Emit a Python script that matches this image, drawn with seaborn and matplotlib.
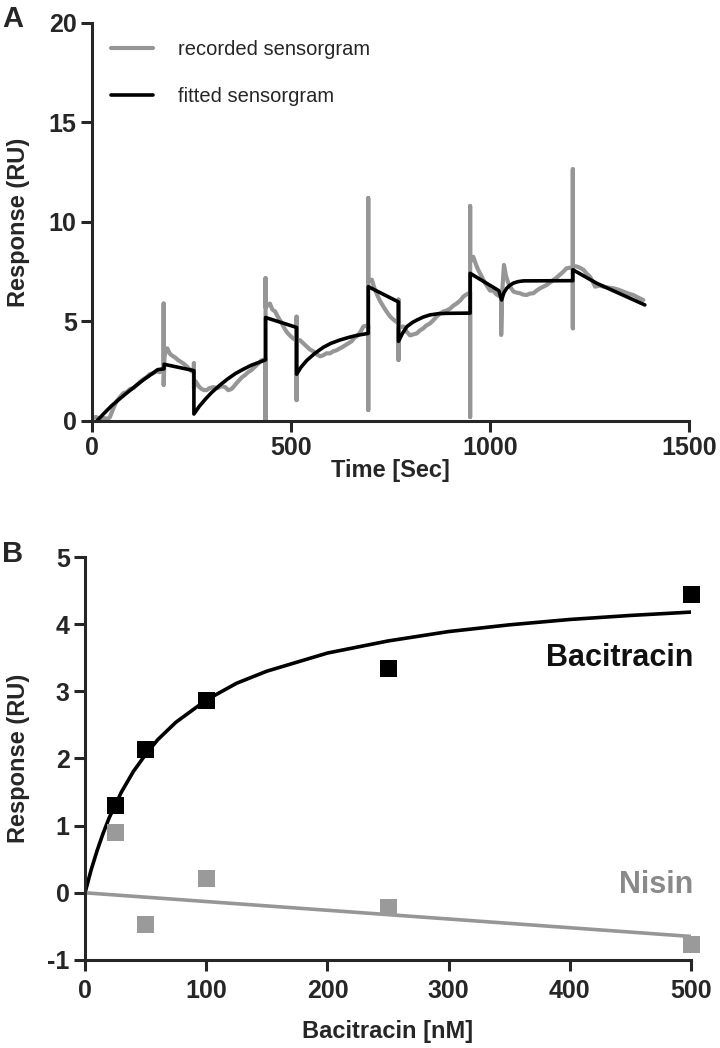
import matplotlib
matplotlib.use('Agg')
import matplotlib.pyplot as plt
import seaborn as sns

# ---- Panel A: sensorgram (time in s, response in RU) ----
rec_time = [0, 10, 20, 30, 40, 45, 50, 55, 62, 70, 79, 87, 95, 104, 112, 120, 129, 137, 145, 154,
            162, 170, 175, 180, 180, 180, 182, 185, 189, 195, 200, 208, 217, 225, 232, 238, 245, 250,
            256, 256, 256, 260, 265, 270, 276, 282, 288, 295, 305, 315, 326, 335, 342, 350, 357, 363,
            370, 377, 384, 392, 400, 408, 416, 426, 436, 436, 436, 436, 443, 447, 453, 460, 468, 477,
            485, 490, 497, 505, 514, 514, 514, 514, 523, 531, 539, 547, 556, 564, 573, 581, 589, 598,
            606, 614, 623, 632, 644, 652, 660, 665, 672, 682, 694, 694, 694, 694, 703, 709, 715, 723,
            732, 740, 749, 757, 770, 770, 770, 770, 782, 790, 799, 807, 816, 824, 832, 840, 849, 857,
            866, 874, 883, 891, 900, 908, 916, 925, 933, 940, 950, 950, 950, 950, 958, 964, 970, 978,
            987, 995, 1000, 1008, 1017, 1025, 1028, 1028, 1030, 1035, 1040, 1046, 1052, 1059, 1067,
            1075, 1083, 1092, 1100, 1109, 1117, 1126, 1134, 1142, 1150, 1159, 1167, 1175, 1184, 1192,
            1200, 1208, 1208, 1208, 1208, 1218, 1226, 1235, 1243, 1251, 1258, 1264, 1275, 1285, 1298,
            1310, 1322, 1335, 1348, 1360, 1372, 1385]
rec_resp = [0.15, 0.2, 0.1, 0.15, 0.1, 0.2, 0.45, 0.7, 1.0, 1.2, 1.4, 1.45, 1.6, 1.65, 1.8, 1.95, 2.1,
            2.2, 2.35, 2.4, 2.5, 2.45, 2.6, 2.55, 5.9, 1.8, 3.2, 3.55, 3.65, 3.4, 3.3, 3.2, 3.05, 2.95,
            2.85, 2.75, 2.6, 2.5, 2.45, 2.9, 1.65, 2.0, 1.85, 1.7, 1.6, 1.55, 1.55, 1.65, 1.7, 1.65,
            1.75, 1.7, 1.55, 1.6, 1.75, 1.9, 2.05, 2.2, 2.3, 2.45, 2.55, 2.7, 2.85, 3.05, 3.1, 0.0,
            7.17, 5.7, 5.85, 5.9, 5.6, 5.5, 5.2, 4.9, 4.6, 4.45, 4.3, 4.15, 4.05, 5.24, 1.05, 4.1,
            4.05, 3.9, 3.75, 3.6, 3.5, 3.35, 3.25, 3.3, 3.4, 3.4, 3.5, 3.55, 3.65, 3.75, 3.9, 4.0, 4.2,
            4.25, 4.4, 4.75, 4.8, 0.55, 11.2, 7.0, 7.1, 6.7, 6.4, 6.05, 5.75, 5.5, 5.25, 5.1, 4.9, 6.1,
            3.07, 4.7, 4.75, 4.5, 4.3, 4.35, 4.4, 4.55, 4.65, 4.8, 4.9, 5.05, 5.25, 5.4, 5.5, 5.55,
            5.65, 5.8, 5.9, 6.05, 6.25, 6.35, 6.45, 0.2, 10.8, 8.0, 8.25, 7.9, 7.6, 7.3, 6.95, 6.7,
            6.55, 6.55, 6.35, 6.25, 6.2, 4.32, 6.3, 7.84, 7.3, 6.92, 6.7, 6.5, 6.45, 6.42, 6.35, 6.33,
            6.4, 6.42, 6.55, 6.67, 6.75, 6.83, 6.95, 7.08, 7.2, 7.34, 7.5, 7.67, 7.7, 7.67, 4.66, 12.65,
            7.8, 7.76, 7.7, 7.59, 7.4, 7.25, 7.0, 6.75, 6.8, 6.75, 6.7, 6.67, 6.6, 6.5, 6.4, 6.33, 6.2,
            6.08]

fit_time = [12, 30, 50, 70, 90, 110, 130, 150, 165, 181, 181, 256, 256, 270, 285, 300, 320, 340,
            360, 380, 400, 420, 436, 436, 514, 514, 525, 540, 560, 581, 600, 623, 645, 665, 694, 694,
            770, 770, 780, 791, 805, 816, 832, 849, 870, 891, 950, 950, 1022, 1029, 1035, 1042, 1050,
            1059, 1070, 1084, 1208, 1208, 1268, 1389]
fit_resp = [0.0, 0.38, 0.78, 1.12, 1.45, 1.77, 2.08, 2.36, 2.58, 2.62, 2.85, 2.53, 0.35, 0.75, 1.1,
            1.42, 1.78, 2.1, 2.38, 2.6, 2.8, 2.95, 3.07, 5.2, 4.7, 2.35, 2.7, 3.05, 3.4, 3.7, 3.9, 4.07,
            4.2, 4.3, 4.4, 6.75, 5.98, 4.0, 4.4, 4.74, 4.95, 5.07, 5.22, 5.33, 5.39, 5.41, 5.42, 7.42,
            6.55, 6.08, 6.45, 6.67, 6.82, 6.93, 7.0, 7.04, 7.05, 7.6, 6.92, 5.83]

# ---- Panel B: steady-state response vs concentration ----
conc = [25, 50, 100, 250, 500]
bac_resp = [1.30, 2.14, 2.86, 3.34, 4.44]
nis_resp = [0.90, -0.47, 0.22, -0.22, -0.77]
bac_fit_conc = [0, 5, 10, 15, 20, 30, 40, 50, 60, 75, 100, 125, 150, 200, 250, 300, 350, 400, 450, 500]
bac_fit_resp = [0.0, 0.34, 0.63, 0.89, 1.12, 1.50, 1.81, 2.06, 2.28, 2.54, 2.87, 3.12, 3.30, 3.57,
                3.75, 3.89, 3.99, 4.07, 4.13, 4.18]
nis_fit_conc = [0, 500]
nis_fit_resp = [0.0, -0.65]

GRAY = '#969696'
sns.set_style('ticks')
plt.rcParams['font.family'] = ['Liberation Sans', 'DejaVu Sans']
plt.rcParams['axes.unicode_minus'] = False

fig = plt.figure(figsize=(7.2, 10.48), dpi=100)
axA = fig.add_axes([0.1278, 0.5983, 0.8292, 0.3798])
axB = fig.add_axes([0.1181, 0.0840, 0.8417, 0.3845])

# Panel A
sns.lineplot(x=rec_time, y=rec_resp, sort=False, estimator=None, color=GRAY, lw=3.0,
             label='recorded sensorgram', ax=axA)
sns.lineplot(x=fit_time, y=fit_resp, sort=False, estimator=None, color='black', lw=2.6,
             label='fitted sensorgram', ax=axA)
axA.set_xlim(0, 1500)
axA.set_ylim(0, 20)
axA.set_xticks([0, 500, 1000, 1500])
axA.set_yticks([0, 5, 10, 15, 20])
axA.set_xlabel('Time [Sec]', fontsize=17, fontweight='bold')
axA.set_ylabel('Response (RU)', fontsize=17, fontweight='bold')
axA.xaxis.set_label_coords(0.5, -0.095)
axA.yaxis.set_label_coords(-0.104, 0.5)
axA.legend(loc='upper left', bbox_to_anchor=(0.032, 0.958), frameon=False, fontsize=14.5,
           handlelength=2.1, handletextpad=1.2, labelspacing=1.4, borderpad=0, borderaxespad=0)

# Panel B
sns.lineplot(x=bac_fit_conc, y=bac_fit_resp, sort=False, estimator=None, color='black', lw=2.6, ax=axB)
sns.lineplot(x=nis_fit_conc, y=nis_fit_resp, sort=False, estimator=None, color=GRAY, lw=2.6, ax=axB)
sns.scatterplot(x=conc, y=nis_resp, marker='s', s=150, color='#9a9a9a', edgecolor='none',
                clip_on=False, zorder=3, ax=axB)
sns.scatterplot(x=conc, y=bac_resp, marker='s', s=150, color='black', edgecolor='none',
                clip_on=False, zorder=4, ax=axB)
axB.set_xlim(0, 500)
axB.set_ylim(-1, 5)
axB.set_xticks([0, 100, 200, 300, 400, 500])
axB.set_yticks([-1, 0, 1, 2, 3, 4, 5])
axB.set_xlabel('Bacitracin [nM]', fontsize=17, fontweight='bold')
axB.set_ylabel('Response (RU)', fontsize=17, fontweight='bold')
axB.xaxis.set_label_coords(0.5, -0.15)
axB.yaxis.set_label_coords(-0.091, 0.5)
axB.text(502, 3.5, 'Bacitracin', ha='right', va='center', fontsize=22, fontweight='bold',
         color='#111111')
axB.text(502, 0.12, 'Nisin', ha='right', va='center', fontsize=22, fontweight='bold',
         color='#8a8a8a')

for ax in (axA, axB):
    sns.despine(ax=ax)
    for side in ('left', 'bottom'):
        ax.spines[side].set_linewidth(2.2)
    ax.tick_params(width=2.2, length=8, labelsize=18, pad=3)
    for lab in ax.get_xticklabels() + ax.get_yticklabels():
        lab.set_fontweight('bold')
axB.tick_params(axis='x', pad=6)

fig.text(0.003, 1 - 5 / 1048, 'A', va='top', ha='left', fontsize=21, fontweight='bold')
fig.text(0.003, 1 - 540 / 1048, 'B', va='top', ha='left', fontsize=21, fontweight='bold')

fig.savefig('out.png', dpi=100)
